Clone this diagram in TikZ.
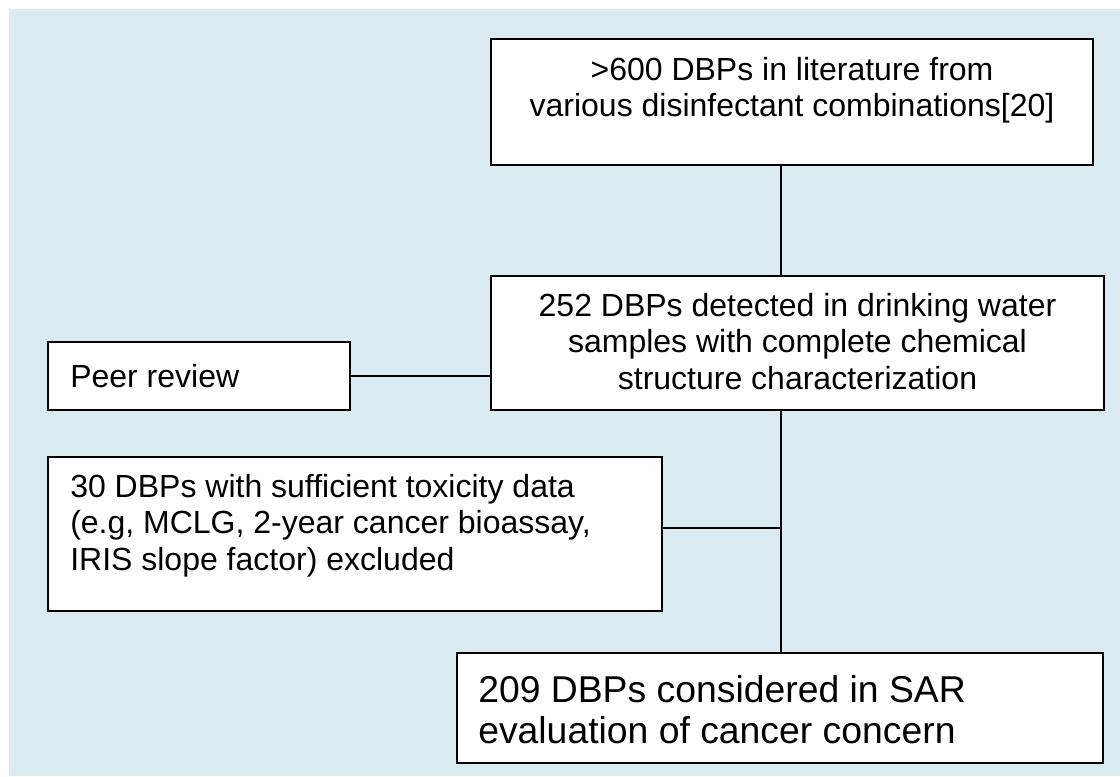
\documentclass[tikz,border=0pt]{standalone}
\usepackage{fontspec}
\setmainfont{Liberation Sans}
\definecolor{bgblue}{HTML}{DAECF2}
\begin{document}
\begin{tikzpicture}[x=0.75pt,y=-0.75pt,
  boxnode/.style={draw=black, fill=white, line width=1.6pt, rectangle, inner sep=0pt, outer sep=0pt, anchor=north west},
  txt/.style={inner sep=0pt, font=\fontsize{24}{27.4}\selectfont, text=black},
  bigtxt/.style={inner sep=0pt, font=\fontsize{28}{30.5}\selectfont, text=black},
  conn/.style={line width=1.4pt, draw=black}]
\useasboundingbox (0,0) rectangle (1120,776);
\fill[white] (0,0) rectangle (1120,776);
\fill[bgblue] (9,9) rectangle (1120,776);
% boxes
\node[boxnode, minimum width=451.5pt, minimum height=94.5pt] (A) at (491,39) {};
\node[boxnode, minimum width=459.75pt, minimum height=100.5pt] (B) at (491,276) {};
\node[boxnode, minimum width=226.5pt, minimum height=51pt] (P) at (48,342) {};
\node[boxnode, minimum width=460.5pt, minimum height=115.5pt] (C) at (48,457) {};
\node[boxnode, minimum width=484.5pt, minimum height=82.5pt] (D) at (457,653) {};
% texts
\node[txt, align=center, anchor=north] (At) at ([yshift=-13.5pt]A.north) {>600 DBPs in literature from\\various disinfectant combinations[20]};
\node[txt, align=center, anchor=north] (Bt) at ([yshift=-12.75pt]B.north) {252 DBPs detected in drinking water\\samples with complete chemical\\structure characterization};
\node[txt, anchor=west] (Pt) at ([xshift=16.5pt]P.west) {Peer review};
\node[txt, align=left, anchor=north west] (Ct) at ([xshift=16.5pt,yshift=-12.4pt]C.north west) {30 DBPs with sufficient toxicity data\\(e.g, MCLG, 2-year cancer bioassay,\\IRIS slope factor) excluded};
\node[bigtxt, align=left, anchor=north west] (Dt) at ([xshift=15.75pt,yshift=-16.5pt]D.north west) {209 DBPs considered in SAR\\evaluation of cancer concern};
% connectors
\coordinate (sx) at (781,0);
\coordinate (cj) at (781,528);
\draw[conn] (A.south -| sx) -- (B.north -| sx);
\draw[conn] (B.south -| sx) -- (D.north -| sx);
\draw[conn] (P.east) -- (P.east -| B.west);
\draw[conn] (C.east |- cj) -- (cj);
\end{tikzpicture}
\end{document}
